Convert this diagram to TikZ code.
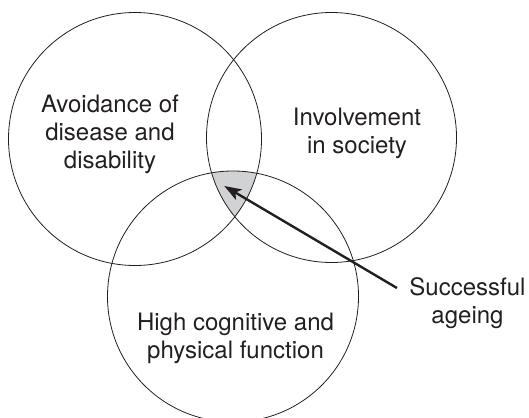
\documentclass[tikz,border=0pt]{standalone}
\usepackage{fontspec}
\setmainfont{TeX Gyre Heros}
\usetikzlibrary{arrows.meta}
\definecolor{ink}{HTML}{231F20}
\definecolor{core}{HTML}{D1D2D4}

\begin{document}
\begin{tikzpicture}[x=1pt,y=-1pt,
	lbl/.style={align=center,font=\fontsize{24}{28}\selectfont,text=ink},
	ring/.style={draw=ink,line width=0.8pt}]
	\useasboundingbox (0,0) rectangle (529,417);
	\coordinate (cA) at (135,139); \coordinate (cB) at (331.5,137.5); \coordinate (cC) at (233,296.5);
	
	\begin{scope}
		\clip (cA) circle (126.5pt); \clip (cB) circle (125pt);
		\fill[core] (cC) circle (125.5pt);
	\end{scope}
	\draw[ring] (cA) circle (126.5pt);
	\draw[ring] (cB) circle (125pt);
	\draw[ring] (cC) circle (125.5pt);
	
	\node[lbl] (avoid) at (110,134.5) {Avoidance of\\disease and\\disability};
	\node[lbl] (involve) at (357,133.7) {Involvement\\in society};
	\node[lbl] (func) at (235.5,338) {High cognitive and\\physical function};
	\node[lbl] (succ) at (467.5,303) {Successful\\ageing};
	
	\coordinate (tip) at (224.3,186);
	\draw[-{Stealth[length=17pt,width=12pt,inset=4pt]},line width=2.4pt,ink] ([xshift=-9pt,yshift=15pt]succ.west) -- (tip);
\end{tikzpicture}
\end{document}
